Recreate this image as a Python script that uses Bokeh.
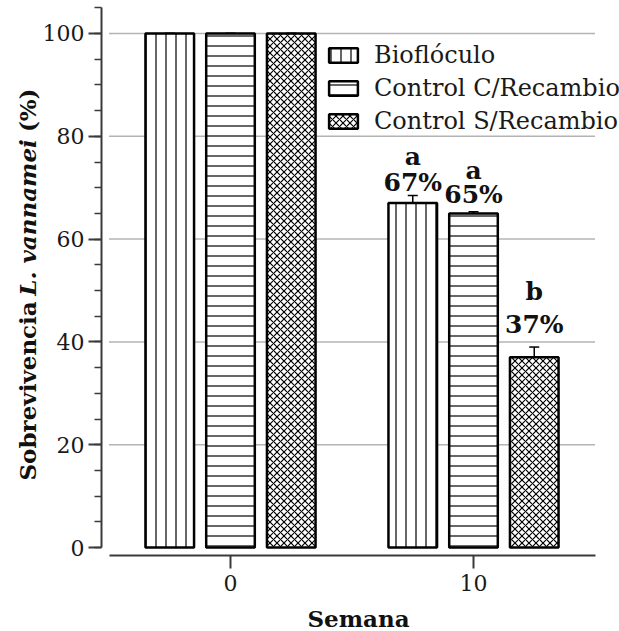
import numpy as np
from bokeh.plotting import figure
from bokeh.models import (ColumnDataSource, Range1d, FixedTicker, SingleIntervalTicker,
                          Whisker, TeeHead, Legend, LegendItem, Label)
from bokeh.core.properties import value
from bokeh.embed import file_html
from bokeh.resources import INLINE

# Survival data (%) per treatment at week 0 and week 10
weeks = [0, 10]
treatments = ["Bioflóculo", "Control C/Recambio", "Control S/Recambio"]
biofloc = [100, 67]
control_c = [100, 65]
control_s = [100, 37]
biofloc_err = [0, 1.5]
control_c_err = [0, 0.3]
control_s_err = [0, 2.0]
# significance letters shown at week 10
letters = ["a", "a", "b"]
grid_values = [20, 40, 60, 80, 100]

values = [biofloc, control_c, control_s]
errs = [biofloc_err, control_c_err, control_s_err]

# styling
FONT = "DejaVu Serif"
offsets = [-2.5, 0.0, 2.5]
bar_width = 2.0
hatches = ["vertical_line", "horizontal_line", "diagonal_cross"]
hatch_scales = [10, 10, 7]
pct_gap = [13, 17, 23]     # px between error cap and percentage text
letter_gap = [26, 24, 33]  # px between percentage baseline and letter baseline
x_bounds = (-5, 15)
y_bounds = (0, 105)
x_axis_at = -1.56
y_axis_at = -5.31

# the frame covers the whole canvas; axes sit at fixed data locations
p = figure(width=619, height=631,
           x_range=Range1d(-9.465, 16.008), y_range=Range1d(-16.34, 106.42),
           output_backend="svg", toolbar_location=None,
           min_border=0)
p.outline_line_color = None
p.background_fill_color = "white"
p.border_fill_color = "white"
p.xgrid.visible = False
p.ygrid.visible = False

# axes
p.xaxis.ticker = FixedTicker(ticks=weeks)
p.xaxis.bounds = x_bounds
p.xaxis.fixed_location = x_axis_at
p.yaxis.ticker = SingleIntervalTicker(interval=20, num_minor_ticks=4)
p.yaxis.bounds = y_bounds
p.yaxis.fixed_location = y_axis_at
for ax in (p.xaxis, p.yaxis):
    ax.axis_line_width = 2
    ax.axis_line_color = "#3a3a3a"
    ax.major_tick_line_width = 2
    ax.major_tick_line_color = "#3a3a3a"
    ax.minor_tick_line_width = 1.5
    ax.minor_tick_line_color = "#3a3a3a"
    ax.major_tick_in = 0
    ax.major_tick_out = 13
    ax.minor_tick_in = 0
    ax.minor_tick_out = 7
    ax.major_label_text_font = FONT
    ax.major_label_text_font_size = "22px"
    ax.major_label_text_color = "#1a1a1a"
p.xaxis.minor_tick_line_color = None
p.xaxis.major_label_standoff = 6
p.yaxis.major_label_standoff = 4

# horizontal grid lines spanning the x-axis extent
p.segment(x0=[x_bounds[0]] * len(grid_values), x1=[x_bounds[1]] * len(grid_values),
          y0=grid_values, y1=grid_values, line_color="#b4b4b4", line_width=1.5,
          level="underlay")

items = []
for i, name in enumerate(treatments):
    xs = [w + offsets[i] for w in weeks]
    top = values[i]
    err = errs[i]
    src = ColumnDataSource(dict(
        x=xs, top=top,
        upper=[t + e for t, e in zip(top, err)],
        lower=[t - e for t, e in zip(top, err)],
    ))
    r = p.vbar(x="x", top="top", bottom=0, width=bar_width, source=src,
               fill_color="white", line_color="black", line_width=2.5,
               hatch_pattern=hatches[i], hatch_color="black",
               hatch_scale=hatch_scales[i], hatch_weight=1.2)
    items.append(LegendItem(label=name, renderers=[r]))
    p.add_layout(Whisker(source=src, base="x", upper="upper", lower="lower",
                         line_color="black", line_width=1.5,
                         upper_head=TeeHead(size=10, line_width=1.5),
                         lower_head=TeeHead(size=10, line_width=1.5)))

    # week 10 annotations: percentage and letter
    x10 = weeks[1] + offsets[i]
    y10 = top[1] + err[1]
    p.text(x=[x10], y=[y10], text=[f"{top[1]:.0f}%"], text_align="center",
           text_baseline="alphabetic", y_offset=-pct_gap[i],
           text_font=value(FONT), text_font_style="bold",
           text_font_size="25px", text_color="#111111")
    p.text(x=[x10], y=[y10], text=[letters[i]], text_align="center",
           text_baseline="alphabetic", y_offset=-(pct_gap[i] + letter_gap[i]),
           text_font=value(FONT), text_font_style="bold",
           text_font_size="25px", text_color="#111111")

legend = Legend(items=items, location=(325, 496),
                glyph_width=36, glyph_height=18, label_standoff=13,
                label_text_font=FONT, label_text_font_size="24px",
                label_text_color="#1a1a1a", spacing=5, padding=0, margin=0,
                border_line_color=None, background_fill_alpha=0)
p.add_layout(legend)

# axis titles (y title mixes upright and italic text)
lab_kw = dict(x_units="screen", y_units="screen", angle=np.pi / 2,
              text_font=FONT, text_font_size="23px", text_baseline="middle",
              text_color="#111111")
p.add_layout(Label(x=27, y=151, text="Sobrevivencia", text_align="left",
                   text_font_style="bold", **lab_kw))
p.add_layout(Label(x=27, y=414, text="L. vannamei", text_align="center",
                   text_font_style="bold italic", **lab_kw))
p.add_layout(Label(x=27, y=543, text="(%)", text_align="right",
                   text_font_style="bold", **lab_kw))
p.add_layout(Label(x=358, y=13, x_units="screen", y_units="screen",
                   text="Semana", text_align="center", text_baseline="middle",
                   text_font=FONT, text_font_size="23px", text_font_style="bold",
                   text_color="#111111"))

open("out.html", "w").write(file_html(p, INLINE))
